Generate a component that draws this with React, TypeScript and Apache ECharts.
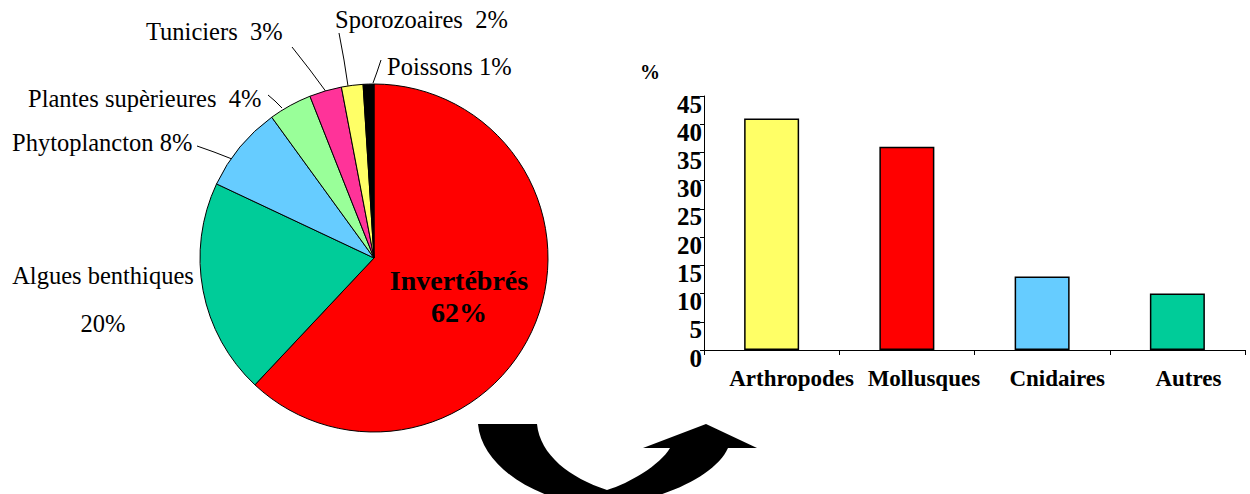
import React, { useEffect, useRef } from "react";
import * as echarts from "echarts";

// ---- Data ----
const PIE_NAMES = [
  "Invertébrés",
  "Algues benthiques",
  "Phytoplancton",
  "Plantes supèrieures",
  "Tuniciers",
  "Sporozoaires",
  "Poissons",
];
const PIE_VALUES = [62, 20, 8, 4, 3, 2, 1];
const PIE_SEPARATORS = ["\n", "\n\n", " ", "  ", "  ", "  ", " "];
const PIE_COLORS = ["#FF0000", "#00CC99", "#66CCFF", "#99FF99", "#FF3399", "#FFFF66", "#000000"];

const BAR_CATEGORIES = ["Arthropodes", "Mollusques", "Cnidaires", "Autres"];
const BAR_VALUES = [41, 36, 13, 10];
const BAR_COLORS = ["#FFFF66", "#FF0000", "#66CCFF", "#00CC99"];
const Y_MIN = 0;
const Y_MAX = 45;
const Y_INTERVAL = 5;
const Y_UNIT = "%";

// ---- Layout (positions only) ----
const FONT = "'Liberation Serif', 'Times New Roman', serif";
const PIE_LABEL_LAYOUT: any[] = [
  { x: 459, y: 296, align: "center" },
  { x: 103, y: 299, align: "center" },
  { x: 12, y: 142, align: "left", line: [[232, 159], [214, 152], [197, 146]] },
  { x: 28, y: 98, align: "left", line: [[282, 108], [275, 101], [268, 95]] },
  { x: 146, y: 31, align: "left", line: [[327, 93], [310, 70], [292, 47]] },
  { x: 335, y: 19, align: "left", line: [[348, 86], [344, 60], [339, 33]] },
  { x: 387, y: 66, align: "left", line: [[373, 83], [377, 72], [381, 60]] },
];
// horizontal shift (px) of each category label to the right of its bar
const X_LABEL_SHIFT = [20, 17, 15, 11];

const ARROW_D =
  "M478 424 L537 424 C540 455 570 478 607 490 C630 483 660 465 670 448 L643 448 L706 424 L757 448 L728 448 C716 475 665 500 607 506 C545 506 482 470 478 424 Z";

let registered = false;
function ensureShapes() {
  if (registered) return;
  echarts.graphic.registerShape("curvedArrow", echarts.graphic.extendPath(ARROW_D, {}) as any);
  registered = true;
}

export default function App() {
  const ref = useRef<HTMLDivElement>(null);

  useEffect(() => {
    document.body.style.margin = "0";
    ensureShapes();
    const chart = echarts.init(ref.current!, undefined, { renderer: "svg" });

    const pieData = PIE_NAMES.map((name, i) => {
      const isMain = i === 0;
      return {
        name,
        value: PIE_VALUES[i],
        itemStyle: { color: PIE_COLORS[i] },
        label: isMain
          ? {
              position: "inside",
              fontSize: 28,
              fontWeight: "bold",
              lineHeight: 32,
              align: "center",
            }
          : i === 1
          ? { align: "center", lineHeight: 24 }
          : {},
        labelLine: { show: i >= 2 },
      };
    });

    const xRich: any = {};
    BAR_CATEGORIES.forEach((_, i) => {
      xRich["c" + i] = {
        fontFamily: FONT,
        fontSize: 23,
        fontWeight: "bold",
        color: "#000",
        padding: [0, 0, 0, X_LABEL_SHIFT[i] * 2],
      };
    });

    const option: any = {
      animation: false,
      textStyle: { fontFamily: FONT, color: "#000" },
      grid: { left: 704, right: 5, top: 96, bottom: 144, containLabel: false },
      xAxis: {
        type: "category",
        data: BAR_CATEGORIES,
        boundaryGap: true,
        axisLine: { show: true, lineStyle: { color: "#000", width: 1 } },
        axisTick: { show: true, alignWithLabel: false, length: 5, lineStyle: { color: "#000" } },
        axisLabel: {
          color: "#000",
          fontFamily: FONT,
          fontSize: 23,
          fontWeight: "bold",
          margin: 17,
          interval: 0,
          formatter: (v: string, i: number) => `{c${i}|${v}}`,
          rich: xRich,
        },
        splitLine: { show: false },
      },
      yAxis: {
        type: "value",
        min: Y_MIN,
        max: Y_MAX,
        interval: Y_INTERVAL,
        name: Y_UNIT,
        nameLocation: "end",
        nameGap: 24,
        nameTextStyle: {
          fontFamily: FONT,
          fontSize: 20,
          fontWeight: "bold",
          color: "#000",
          align: "right",
          verticalAlign: "middle",
          padding: [0, 44, 0, 0],
        },
        axisLine: { show: true, lineStyle: { color: "#000", width: 1 } },
        axisTick: { show: true, length: 4, lineStyle: { color: "#000" } },
        axisLabel: {
          color: "#000",
          fontFamily: FONT,
          fontSize: 25,
          fontWeight: "bold",
          margin: 2,
          verticalAlign: "top",
          lineHeight: 16,
        },
        splitLine: { show: false },
      },
      series: [
        {
          type: "pie",
          center: [374, 258],
          radius: 174,
          startAngle: 90,
          clockwise: true,
          itemStyle: { borderColor: "#000", borderWidth: 1 },
          label: {
            show: true,
            position: "outside",
            fontFamily: FONT,
            fontSize: 24.5,
            color: "#000",
            width: 300,
            overflow: "none",
            formatter: (p: any) => `${p.name}${PIE_SEPARATORS[p.dataIndex]}${p.value}%`,
          },
          labelLine: { show: true, lineStyle: { color: "#000", width: 1 } },
          labelLayout: (params: any) => {
            const l = PIE_LABEL_LAYOUT[params.dataIndex];
            const out: any = { x: l.x, y: l.y, align: l.align, verticalAlign: "middle" };
            if (l.line) out.labelLinePoints = l.line;
            return out;
          },
          data: pieData,
        },
        {
          type: "bar",
          barWidth: 55,
          data: BAR_VALUES.map((v, i) => ({ value: v, itemStyle: { color: BAR_COLORS[i] } })),
          itemStyle: { borderColor: "#000", borderWidth: 1.5 },
        },
      ],
      graphic: [
        {
          type: "curvedArrow",
          x: 0,
          y: 0,
          style: { fill: "#000", stroke: "none" },
          silent: true,
        },
      ],
    };

    chart.setOption(option);
    return () => chart.dispose();
  }, []);

  return (
    <div
      ref={ref}
      style={{ position: "absolute", left: 0, top: 0, width: 1250, height: 494, background: "#fff" }}
    />
  );
}
